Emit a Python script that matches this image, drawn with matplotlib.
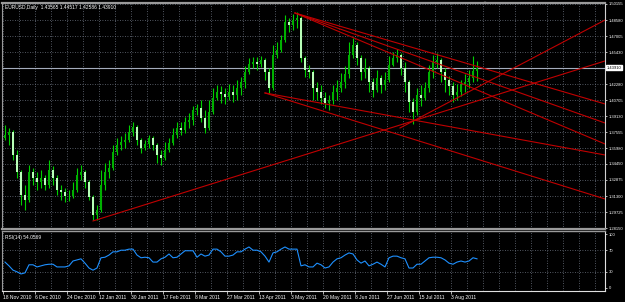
import numpy as np
import matplotlib
matplotlib.use('Agg')
import matplotlib.pyplot as plt
import matplotlib.transforms as mtransforms

plt.rcParams['font.family'] = ['Liberation Sans', 'DejaVu Sans']

# EURUSD daily (one candle per two trading bars)
first_open = 1.3700
closes = [1.3728, 1.3758, 1.3532, 1.3365, 1.3140, 1.3090, 1.3365, 1.3306, 1.3267, 1.3306,
          1.3238, 1.3385, 1.3306, 1.3189, 1.3169, 1.3130, 1.3130, 1.3189, 1.3336, 1.3365,
          1.3267, 1.3120, 1.2944, 1.2993, 1.3238, 1.3365, 1.3405, 1.3562, 1.3630, 1.3660,
          1.3680, 1.3758, 1.3807, 1.3680, 1.3601, 1.3640, 1.3699, 1.3630, 1.3532, 1.3503,
          1.3581, 1.3650, 1.3728, 1.3797, 1.3778, 1.3856, 1.3876, 1.3975, 1.3994, 1.3896,
          1.3797, 1.3955, 1.4092, 1.4151, 1.4132, 1.4102, 1.4151, 1.4122, 1.4191, 1.4250,
          1.4348, 1.4426, 1.4446, 1.4426, 1.4466, 1.4348, 1.4191, 1.4515, 1.4564, 1.4662,
          1.4839, 1.4809, 1.4858, 1.4878, 1.4485, 1.4367, 1.4348, 1.4191, 1.4151, 1.4092,
          1.4043, 1.4073, 1.4151, 1.4191, 1.4250, 1.4328, 1.4515, 1.4613, 1.4485, 1.4348,
          1.4387, 1.4250, 1.4171, 1.4289, 1.4220, 1.4269, 1.4416, 1.4485, 1.4515, 1.4387,
          1.4250, 1.4053, 1.3955, 1.4122, 1.4092, 1.4191, 1.4348, 1.4446, 1.4466, 1.4348,
          1.4269, 1.4210, 1.4122, 1.4151, 1.4220, 1.4250, 1.4289, 1.4357, 1.4391]
highs = [1.3827, 1.3797, 1.3778, 1.3581, 1.3385, 1.3238, 1.3434, 1.3405, 1.3365, 1.3385,
         1.3336, 1.3483, 1.3424, 1.3336, 1.3238, 1.3208, 1.3189, 1.3267, 1.3405, 1.3434,
         1.3385, 1.3287, 1.3140, 1.3042, 1.3385, 1.3454, 1.3483, 1.3630, 1.3699, 1.3719,
         1.3748, 1.3827, 1.3856, 1.3827, 1.3699, 1.3680, 1.3728, 1.3719, 1.3650, 1.3581,
         1.3660, 1.3699, 1.3797, 1.3856, 1.3856, 1.3905, 1.3945, 1.4014, 1.4033, 1.4073,
         1.3975, 1.4073, 1.4191, 1.4220, 1.4210, 1.4191, 1.4230, 1.4220, 1.4269, 1.4299,
         1.4406, 1.4485, 1.4495, 1.4495, 1.4505, 1.4485, 1.4387, 1.4613, 1.4642, 1.4711,
         1.4907, 1.4878, 1.4917, 1.4937, 1.4898, 1.4505, 1.4416, 1.4367, 1.4250, 1.4220,
         1.4151, 1.4122, 1.4220, 1.4269, 1.4338, 1.4406, 1.4642, 1.4682, 1.4642, 1.4515,
         1.4485, 1.4406, 1.4289, 1.4367, 1.4318, 1.4348, 1.4505, 1.4544, 1.4574, 1.4534,
         1.4446, 1.4269, 1.4092, 1.4191, 1.4220, 1.4250, 1.4416, 1.4515, 1.4534, 1.4485,
         1.4387, 1.4308, 1.4250, 1.4230, 1.4269, 1.4328, 1.4367, 1.4505, 1.4452]
lows = [1.3680, 1.3630, 1.3483, 1.3306, 1.3042, 1.2993, 1.3071, 1.3238, 1.3189, 1.3208,
        1.3189, 1.3208, 1.3238, 1.3140, 1.3090, 1.3071, 1.3081, 1.3110, 1.3169, 1.3287,
        1.3208, 1.3090, 1.2895, 1.2895, 1.2973, 1.3189, 1.3306, 1.3385, 1.3532, 1.3581,
        1.3601, 1.3660, 1.3719, 1.3630, 1.3552, 1.3581, 1.3601, 1.3581, 1.3454, 1.3434,
        1.3483, 1.3562, 1.3630, 1.3699, 1.3728, 1.3748, 1.3797, 1.3827, 1.3925, 1.3856,
        1.3748, 1.3778, 1.3935, 1.4073, 1.4043, 1.4033, 1.4073, 1.4053, 1.4073, 1.4122,
        1.4191, 1.4328, 1.4387, 1.4367, 1.4397, 1.4269, 1.4142, 1.4171, 1.4485, 1.4544,
        1.4642, 1.4740, 1.4760, 1.4780, 1.4446, 1.4299, 1.4289, 1.4073, 1.4073, 1.4033,
        1.3994, 1.3975, 1.4033, 1.4073, 1.4151, 1.4191, 1.4289, 1.4485, 1.4416, 1.4269,
        1.4289, 1.4151, 1.4102, 1.4151, 1.4142, 1.4171, 1.4250, 1.4406, 1.4446, 1.4318,
        1.4151, 1.3955, 1.3837, 1.3925, 1.4014, 1.4073, 1.4151, 1.4289, 1.4387, 1.4250,
        1.4151, 1.4122, 1.4053, 1.4073, 1.4112, 1.4151, 1.4191, 1.4250, 1.4259]
rsi = [48, 41, 33, 30, 26, 28, 43, 43, 39, 41,
       43, 44, 44, 39, 39, 39, 41, 50, 52, 54,
       46, 37, 33, 37, 56, 57, 61, 67, 67, 70,
       70, 72, 72, 61, 56, 57, 56, 48, 48, 54,
       57, 63, 56, 57, 63, 69, 69, 69, 57, 63,
       59, 61, 72, 72, 67, 59, 59, 61, 67, 67,
       72, 76, 70, 70, 67, 59, 48, 65, 67, 72,
       76, 72, 72, 72, 41, 43, 39, 39, 46, 43,
       37, 39, 48, 54, 56, 61, 65, 63, 52, 46,
       50, 41, 44, 48, 44, 39, 56, 59, 59, 56,
       54, 37, 37, 44, 44, 50, 56, 57, 57, 56,
       52, 46, 44, 48, 50, 48, 50, 56, 54.06]

date_labels = ['18 Nov 2010', '6 Dec 2010', '24 Dec 2010', '12 Jan 2011', '30 Jan 2011',
               '17 Feb 2011', '8 Mar 2011', '27 Mar 2011', '13 Apr 2011', '3 May 2011',
               '20 May 2011', '8 Jun 2011', '27 Jun 2011', '15 Jul 2011', '3 Aug 2011']
price_ticks = [1.50155, 1.48580, 1.47005, 1.45430, 1.42280, 1.40705, 1.39130,
               1.37555, 1.35980, 1.34450, 1.32875, 1.31300, 1.29725, 1.28150]
bid = 1.43910
header = 'EURUSD,Daily  1.43565 1.44517 1.42586 1.43910'

# trendlines: (candle index, price) start -> end
trend_x0 = [22.0, 98.75, 72.5, 72.5, 72.5, 65.0, 65.0]
trend_y0 = [1.2885, 1.3798, 1.4927, 1.4927, 1.4927, 1.4142, 1.4142]
trend_x1 = [150.0, 150.0, 150.0, 150.0, 150.0, 150.0, 150.0]
trend_y1 = [1.4456, 1.4858, 1.4034, 1.3847, 1.3641, 1.3533, 1.3101]

W, H = 625, 302
fig = plt.figure(figsize=(W / 100, H / 100), dpi=100, facecolor='black')
ax = fig.add_axes([2 / W, 1 - 229 / H, 603 / W, 226 / H], facecolor='black')
ax2 = fig.add_axes([2 / W, 1 - 291 / H, 603 / W, 60 / H], facecolor='black')

grid_c = '#6c7380'
dots = (0, (1, 2))
n = len(closes)
x = np.arange(n)
opens = [first_open] + closes[:-1]

# grid
for gx in np.arange(-0.5, 150, 4):
    ax.axvline(gx, color=grid_c, lw=0.6, ls=dots, zorder=0)
    ax2.axvline(gx, color=grid_c, lw=0.6, ls=dots, zorder=0)
for gy in price_ticks + [1.43855]:
    ax.axhline(gy, color=grid_c, lw=0.6, ls=dots, zorder=0)
for gy in [70, 30]:
    ax2.axhline(gy, color=grid_c, lw=0.6, ls=dots, zorder=0)

ax.axhline(bid, color='#a4acbc', lw=0.8, zorder=1)

# candles
ax.vlines(x, lows, highs, color='#00d000', lw=0.8, zorder=2)
for i in range(n):
    o, c = opens[i], closes[i]
    col = '#00b000' if c >= o else '#b8ffb8'
    ax.bar(i, max(abs(c - o), 0.0004), bottom=min(o, c), width=0.6,
           color=col, lw=0, zorder=3)

# trendlines
for k in range(len(trend_x0)):
    ax.plot([trend_x0[k], trend_x1[k]], [trend_y0[k], trend_y1[k]],
            color='#c00000', lw=0.8, zorder=4)

ax.set_xlim(-0.75, 150)
ax.set_ylim(1.28060, 1.50253)
ax.set_xticks([])
ax.yaxis.tick_right()
ax.set_yticks(price_ticks)
ax.set_yticklabels(['%.5f' % p for p in price_ticks])
ax.tick_params(axis='y', colors='white', labelsize=3.0, length=1.5, width=0.5, pad=1.0)

ax.text(0.005, 0.992, header, transform=ax.transAxes, color='white', fontsize=3.5,
        va='top', ha='left')
trans = mtransforms.blended_transform_factory(ax.transAxes, ax.transData)
ax.text(1.003, bid, '%.5f' % bid, transform=trans, color='black', fontsize=3.0,
        va='center', ha='left',
        bbox=dict(boxstyle='square,pad=0.15', fc='white', ec='white'))

for s in ['top', 'bottom']:
    ax.spines[s].set_color('#9a9a9a')
    ax.spines[s].set_linewidth(1.6)
ax.spines['left'].set_color('#9a9a9a')
ax.spines['left'].set_linewidth(0.8)
ax.spines['right'].set_color('#d0d0d0')
ax.spines['right'].set_linewidth(0.8)

# RSI panel
ax2.plot(x, rsi, color='#1e90ff', lw=0.8, zorder=3)
ax2.set_xlim(-0.75, 150)
ax2.set_ylim(-5.6, 105.6)
ax2.yaxis.tick_right()
ax2.set_yticks([100, 70, 30, 0])
ax2.set_yticklabels(['100', '70', '30', '0'])
ax2.tick_params(axis='y', colors='white', labelsize=3.0, length=1.5, width=0.5, pad=1.0)
ax2.set_xticks(np.arange(len(date_labels)) * 8 - 0.5)
ax2.set_xticklabels(date_labels, ha='left')
ax2.tick_params(axis='x', colors='white', labelsize=3.6, length=2, width=0.5, pad=1)
ax2.text(0.005, 0.93, 'RSI(14) 54.0569', transform=ax2.transAxes, color='white',
         fontsize=3.5, va='top', ha='left')
ax2.spines['top'].set_color('#9a9a9a')
ax2.spines['top'].set_linewidth(1.0)
ax2.spines['left'].set_color('#9a9a9a')
ax2.spines['left'].set_linewidth(0.8)
for s in ['bottom', 'right']:
    ax2.spines[s].set_color('#e0e0e0')
    ax2.spines[s].set_linewidth(0.8)

# shift marker at the top
fig.text(484 / W, 1 - 3 / H, '\u25bc', color='#9a9a9a', fontsize=3, ha='center', va='center')

fig.savefig('out.png', dpi=100, facecolor='black')
